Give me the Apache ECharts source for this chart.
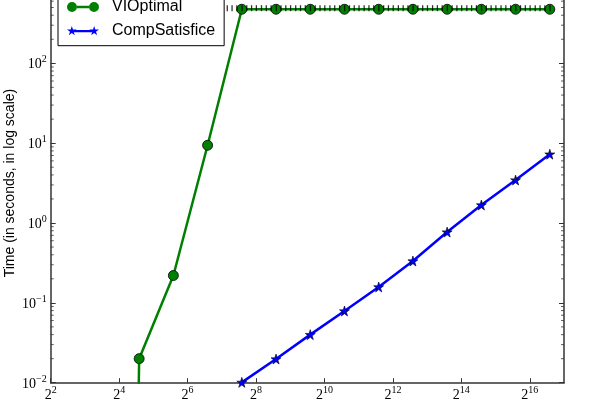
<!DOCTYPE html>
<html>
<head>
<meta charset="utf-8">
<script src="https://cdn.jsdelivr.net/npm/echarts@6/dist/echarts.min.js"></script>
<style>html,body{margin:0;padding:0;background:#fff}#c{width:598px;height:400px}</style>
</head>
<body>
<div id="c"></div>
<script>
// ---- data ----
const viSizes = [12, 24, 48, 96, 192, 384, 768, 1536, 3072, 6144, 12288, 24576, 49152, 98304];
// first value is ~0 (drawn below the axis floor, as in the original)
const viOptimal = [1e-30, 0.02, 0.22, 9.4, 475, 475, 475, 475, 475, 475, 475, 475, 475, 475];
const compSizes = [192, 384, 768, 1536, 3072, 6144, 12288, 24576, 49152, 98304];
const compSatisfice = [0.0101, 0.0198, 0.040, 0.079, 0.158, 0.334, 0.77, 1.68, 3.45, 7.28];
// black '|' marker series (log2 of size)
const limitExp = [7.16,7.30,7.44,7.59,7.73,7.87,
  8.01,8.16,8.30,8.44,8.59,8.73,8.87,
  9.01,9.16,9.30,9.44,9.59,9.73,9.87,
  10.01,10.16,10.30,10.44,10.59,10.73,10.87,
  11.01,11.16,11.30,11.44,11.59,11.73,11.87,
  12.01,12.16,12.30,12.44,12.59,12.73,12.87,
  13.01,13.16,13.30,13.44,13.59,13.73,13.87,
  14.01,14.16,14.30,14.44,14.59,14.73,14.87,
  15.01,15.16,15.30,15.44,15.59,15.73,15.87,
  16.01,16.16,16.30,16.44,16.59];
const limitValue = 490;
const minorTickValues = [0.02,0.03,0.04,0.05,0.06,0.07,0.08,0.09,
  0.2,0.3,0.4,0.5,0.6,0.7,0.8,0.9,
  2,3,4,5,6,7,8,9,
  20,30,40,50,60,70,80,90,
  200,300,400,500,600,700,800,900];
const xMin = 4, xMax = 131072, yMin = 0.01, yMax = 1000;

const serif = 'Liberation Serif';
const sans = 'Liberation Sans';
const circleIcon = 'path://M0,5A5,5,0,1,1,10,5A5,5,0,1,1,0,5Z M10,3.75L22,3.75L22,6.25L10,6.25Z M22,5A5,5,0,1,1,32,5A5,5,0,1,1,22,5Z';
const starIcon = 'path://M5,0L6.117,3.463L9.755,3.455L6.807,5.587L7.939,9.045L5,6.9L2.061,9.045L3.193,5.587L0.245,3.455L3.883,3.463Z' +
  ' M7,3.9L25,3.9L25,6.1L7,6.1Z' +
  ' M27,0L28.117,3.463L31.755,3.455L28.807,5.587L29.939,9.045L27,6.9L24.061,9.045L25.193,5.587L22.245,3.455L25.883,3.463Z';
const starSymbol = 'path://M5,0L6.117,3.463L9.755,3.455L6.807,5.587L7.939,9.045L5,6.9L2.061,9.045L3.193,5.587L0.245,3.455L3.883,3.463Z';

const supRich = {
  b: {fontFamily: serif, fontSize: 14, lineHeight: 17, color: '#000', verticalAlign: 'bottom'},
  s: {fontFamily: serif, fontSize: 10, lineHeight: 10, color: '#000', verticalAlign: 'top'}
};

const chart = echarts.init(document.getElementById('c'), null, {renderer: 'canvas'});
chart.setOption({
  animation: false,
  backgroundColor: '#fff',
  grid: {left: 50.7, right: 34, top: -16.55, bottom: 17.3, containLabel: false, outerBoundsMode: 'none'},
  legend: {
    orient: 'vertical', left: 58, top: -8,
    padding: [7, 9, 7, 9], itemGap: 7.7,
    itemWidth: 32, itemHeight: 10,
    borderColor: '#000', borderWidth: 1, backgroundColor: '#fff',
    itemStyle: {borderWidth: 0},
    textStyle: {fontFamily: sans, fontSize: 16, lineHeight: 16, color: '#000', padding: [0, 0, 0, 8]},
    data: [{name: 'VIOptimal', icon: circleIcon}, {name: 'CompSatisfice', icon: starIcon}]
  },
  xAxis: {
    type: 'log', logBase: 2, min: xMin, max: xMax, interval: 2,
    axisLine: {lineStyle: {color: '#333', width: 1.5}},
    axisTick: {inside: true, length: 4.5, lineStyle: {color: '#333'}},
    splitLine: {show: false},
    axisLabel: {
      margin: 3, showMaxLabel: false, rich: supRich,
      formatter: v => '{b|2}{s|' + Math.round(Math.log2(v)) + '}'
    }
  },
  yAxis: [{
    type: 'log', logBase: 10, min: yMin, max: yMax, interval: 1,
    name: 'Time (in seconds, in log scale)', nameLocation: 'middle', nameGap: 34,
    nameMoveOverlap: false,
    nameTextStyle: {fontFamily: sans, fontSize: 14, color: '#000'},
    axisLine: {lineStyle: {color: '#333', width: 1.5}},
    axisTick: {inside: true, length: 5, lineStyle: {color: '#333'}},
    splitLine: {show: false},
    axisLabel: {
      margin: 4, rich: supRich,
      formatter: v => { const e = Math.round(Math.log10(v)); return '{b|10}{s|' + (e < 0 ? '\u2212' + (-e) : e) + '}'; }
    }
  }, {
    type: 'log', logBase: 10, min: yMin, max: yMax, interval: 1, position: 'right',
    axisLine: {show: true, lineStyle: {color: '#333', width: 1.5}},
    axisTick: {inside: true, length: 5, lineStyle: {color: '#333'}},
    splitLine: {show: false},
    axisLabel: {show: false}
  }],
  series: [
    {
      name: 'VIOptimal', type: 'line', z: 3,
      data: viSizes.map((x, i) => [x, viOptimal[i]]),
      symbol: 'circle', symbolSize: 10, showAllSymbol: true,
      lineStyle: {color: '#008000', width: 2.5},
      itemStyle: {color: '#008000', borderColor: '#000', borderWidth: 0.8}
    },
    {
      name: 'CompSatisfice', type: 'line', z: 3,
      data: compSizes.map((x, i) => [x, compSatisfice[i]]),
      symbol: starSymbol, symbolSize: 10, showAllSymbol: true,
      lineStyle: {color: '#0000ff', width: 2.5},
      itemStyle: {color: '#0000ff', borderColor: '#000', borderWidth: 0.6}
    },
    {
      name: 'limit', type: 'scatter', z: 4, silent: true,
      data: limitExp.map(e => [Math.pow(2, e), limitValue]),
      symbol: 'rect', symbolSize: [1.3, 6],
      itemStyle: {color: '#000'}
    },
    {
      name: 'minorLeft', type: 'scatter', z: 5, silent: true,
      data: minorTickValues.map(v => [xMin, v]),
      symbol: 'rect', symbolSize: [3, 1], symbolOffset: [1.5, 0],
      itemStyle: {color: '#333'}
    },
    {
      name: 'minorRight', type: 'scatter', z: 5, silent: true,
      data: minorTickValues.map(v => [xMax, v]),
      symbol: 'rect', symbolSize: [3, 1], symbolOffset: [-1.5, 0],
      itemStyle: {color: '#333'}
    }
  ]
});
</script>
</body>
</html>
